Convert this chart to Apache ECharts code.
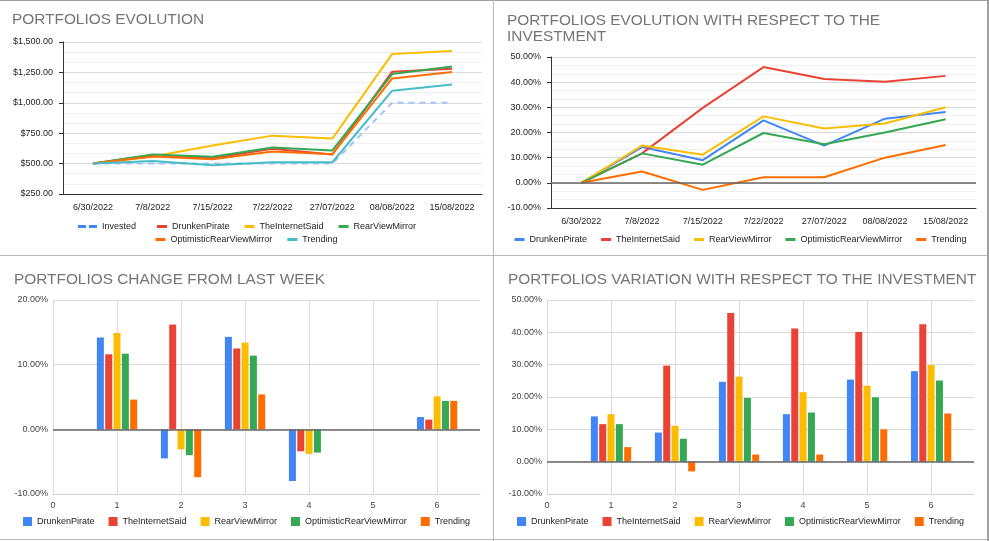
<!DOCTYPE html>
<html>
<head>
<meta charset="utf-8">
<title>Portfolios</title>
<script src="https://cdn.jsdelivr.net/npm/echarts@6/dist/echarts.min.js"></script>
<style>
  html, body { margin: 0; padding: 0; background: #fff; }
  #wrap { position: relative; width: 989px; height: 541px; overflow: hidden; }
  .panel { position: absolute; }
  .ln { position: absolute; background: #b8b8b8; }
</style>
</head>
<body>
<div id="wrap">
  <div class="panel" id="c1" style="left:0;top:1px;width:493px;height:254px"></div>
  <div class="panel" id="c2" style="left:494px;top:1px;width:493px;height:254px"></div>
  <div class="panel" id="c3" style="left:0;top:256px;width:493px;height:283px"></div>
  <div class="panel" id="c4" style="left:494px;top:256px;width:493px;height:283px"></div>
  <div class="ln" style="left:0;top:0;width:989px;height:1px;background:#a0a0a0"></div>
  <div class="ln" style="left:0;top:255px;width:989px;height:1px"></div>
  <div class="ln" style="left:0;top:539px;width:989px;height:1px"></div>
  <div class="ln" style="left:493px;top:0;width:1px;height:541px"></div>
  <div class="ln" style="left:987px;top:0;width:2px;height:541px;background:#a0a0a0"></div>
</div>
<script>
// fechas de la semana
const dates = ['6/30/2022', '7/8/2022', '7/15/2022', '7/22/2022', '27/07/2022', '08/08/2022', '15/08/2022']
const weeks = [1, 2, 3, 4, 5, 6]

// valores en $ (chart 1)
const invested = [500, 500, 500, 500, 500, 1000, 1000]
const drunkenValue = [500, 570, 545, 622, 575, 1256, 1281]
const internetValue = [500, 558, 649, 730, 706, 1402, 1425]
const rearValue = [500, 574, 556, 632, 608, 1236, 1299]
const optimisticValue = [500, 558, 536, 599, 577, 1200, 1253]
const trendingValue = [500, 522, 486, 511, 511, 1100, 1150]

// % respecto a la inversion (chart 2)
const drunkenPct = [0, 14.2, 9.0, 24.8, 14.8, 25.5, 28.1]
const internetPct = [0, 11.7, 29.8, 46.0, 41.3, 40.2, 42.5]
const rearPct = [0, 14.8, 11.2, 26.4, 21.6, 23.6, 30.0]
const optimisticPct = [0, 11.7, 7.2, 19.8, 15.3, 20.0, 25.3]
const trendingPct = [0, 4.5, -2.8, 2.2, 2.2, 10.0, 15.0]

// cambio semanal % (chart 3)
const drunkenWeek = [14.2, -4.5, 14.3, -8.0, 0, 1.9]
const internetWeek = [11.6, 16.2, 12.5, -3.4, 0, 1.5]
const rearWeek = [14.9, -3.1, 13.4, -3.8, 0, 5.1]
const optimisticWeek = [11.7, -4.0, 11.4, -3.6, 0, 4.4]
const trendingWeek = [4.6, -7.4, 5.4, 0, 0, 4.4]

// variacion % (chart 4)
const drunkenVar = [14.0, 9.0, 24.7, 14.7, 25.4, 28.0]
const internetVar = [11.6, 29.7, 46.0, 41.2, 40.1, 42.5]
const rearVar = [14.7, 11.1, 26.3, 21.5, 23.5, 29.9]
const optimisticVar = [11.6, 7.1, 19.7, 15.2, 19.9, 25.1]
const trendingVar = [4.5, -3.0, 2.2, 2.2, 10.0, 14.9]

const names = ['DrunkenPirate', 'TheInternetSaid', 'RearViewMirror', 'OptimisticRearViewMirror', 'Trending']
const blue = '#4285F4'
const red = '#EA4335'
const yellow = '#FBBC04'
const green = '#34A853'
const orange = '#FF6D01'
const teal = '#46BDC6'

const font = '"Liberation Sans", Arial, sans-serif'
const titleStyle = { fontFamily: font, fontSize: 15.4, fontWeight: 'normal', color: '#757575', lineHeight: 16 }
const labelStyle = { fontFamily: font, fontSize: 9, color: '#444' }
const legendText = { fontFamily: font, fontSize: 9, color: '#222' }

function pct (v) { return v.toFixed(2) + '%' }

function lineSeries (name, data, color) {
  return { name: name, type: 'line', data: data, symbol: 'none', color: color, lineStyle: { width: 2, color: color } }
}

// chart 1: evolucion en $
let c1 = echarts.init(document.getElementById('c1'))
c1.setOption({
  animation: false,
  title: { text: 'PORTFOLIOS EVOLUTION', left: 12, top: 11, padding: 0, textStyle: titleStyle },
  grid: { left: 63, right: 11, top: 41, bottom: 61 },
  legend: [
    {
      data: [{ name: 'Invested', icon: 'path://M0,0h8v3h-8zM11,0h8v3h-8z' }],
      left: 78, top: 221, padding: 0, itemWidth: 19, itemHeight: 3, textStyle: legendText
    },
    {
      data: ['DrunkenPirate', 'TheInternetSaid', 'RearViewMirror'],
      left: 157, top: 221, padding: 0, itemGap: 15, itemWidth: 10, itemHeight: 3, icon: 'rect', textStyle: legendText
    },
    {
      data: ['OptimisticRearViewMirror', 'Trending'],
      left: 'center', top: 234, padding: 0, itemGap: 15, itemWidth: 10, itemHeight: 3, icon: 'rect', textStyle: legendText
    }
  ],
  xAxis: {
    type: 'category',
    data: dates,
    boundaryGap: true,
    axisLine: { lineStyle: { color: '#333' } },
    axisTick: { alignWithLabel: true, length: 5, lineStyle: { color: '#333' } },
    axisLabel: Object.assign({ margin: 9, interval: 0 }, labelStyle, { color: '#222' })
  },
  yAxis: {
    type: 'value',
    min: 250,
    max: 1500,
    interval: 250,
    axisLine: { show: true, lineStyle: { color: '#333' } },
    axisTick: { show: true, length: 4, lineStyle: { color: '#333' } },
    axisLabel: Object.assign({
      margin: 10,
      formatter: v => '$' + v.toLocaleString('en-US', { minimumFractionDigits: 2, maximumFractionDigits: 2 })
    }, labelStyle, { color: '#222' }),
    splitLine: { lineStyle: { color: '#dadada' } },
    minorTick: { show: false, splitNumber: 3 },
    minorSplitLine: { show: true, lineStyle: { color: '#f0f0f0' } }
  },
  series: [
    {
      name: 'Invested', type: 'line', data: invested, symbol: 'none', color: blue,
      lineStyle: { width: 2, type: [6, 5], color: '#a5c3f8' }
    },
    lineSeries('DrunkenPirate', drunkenValue, red),
    lineSeries('TheInternetSaid', internetValue, yellow),
    lineSeries('RearViewMirror', rearValue, green),
    lineSeries('OptimisticRearViewMirror', optimisticValue, orange),
    lineSeries('Trending', trendingValue, teal)
  ]
})

// chart 2: evolucion respecto a la inversion
let c2 = echarts.init(document.getElementById('c2'))
let s2 = [
  lineSeries(names[0], drunkenPct, blue),
  lineSeries(names[1], internetPct, red),
  lineSeries(names[2], rearPct, yellow),
  lineSeries(names[3], optimisticPct, green),
  lineSeries(names[4], trendingPct, orange)
]
s2[0].markLine = {
  silent: true, symbol: 'none', label: { show: false },
  lineStyle: { color: '#666', type: 'solid', width: 1.5 },
  data: [{ yAxis: 0 }]
}
c2.setOption({
  animation: false,
  title: { text: 'PORTFOLIOS EVOLUTION WITH RESPECT TO THE\nINVESTMENT', left: 13, top: 12, padding: 0, textStyle: titleStyle },
  grid: { left: 57, right: 11, top: 56, bottom: 47 },
  legend: {
    data: names, left: 'center', top: 234, padding: 0, itemGap: 14,
    itemWidth: 10, itemHeight: 3, icon: 'rect', textStyle: legendText
  },
  xAxis: {
    type: 'category',
    data: dates,
    boundaryGap: true,
    axisLine: { onZero: false, lineStyle: { color: '#333' } },
    axisTick: { alignWithLabel: true, length: 5, lineStyle: { color: '#333' } },
    axisLabel: Object.assign({ margin: 9, interval: 0 }, labelStyle, { color: '#222' })
  },
  yAxis: {
    type: 'value',
    min: -10,
    max: 50,
    interval: 10,
    axisLine: { show: true, lineStyle: { color: '#333' } },
    axisTick: { show: true, length: 4, lineStyle: { color: '#333' } },
    axisLabel: Object.assign({ margin: 10, formatter: pct }, labelStyle, { color: '#222' }),
    splitLine: { lineStyle: { color: '#dadada' } },
    minorTick: { show: false, splitNumber: 3 },
    minorSplitLine: { show: true, lineStyle: { color: '#f0f0f0' } }
  },
  series: s2
})

// charts 3 y 4: barras
function barOption (title, min, max, data) {
  let series = data.map((d, i) => ({
    name: names[i],
    type: 'bar',
    data: weeks.map((w, j) => [w, d[j]]),
    barWidth: 7,
    barGap: '19%',
    color: [blue, red, yellow, green, orange][i]
  }))
  series[0].markLine = {
    silent: true, symbol: 'none', label: { show: false },
    lineStyle: { color: '#666', type: 'solid', width: 1.5 },
    data: [{ yAxis: 0 }]
  }
  return {
    animation: false,
    title: { text: title, left: 14, top: 16, padding: 0, textStyle: titleStyle },
    grid: { left: 53, right: 13, top: 44, bottom: 45 },
    legend: {
      data: names, left: 'center', top: 261, padding: 0, itemGap: 14,
      itemWidth: 9, itemHeight: 9, icon: 'rect', textStyle: legendText
    },
    xAxis: {
      type: 'value',
      min: 0,
      max: 6.67,
      interval: 1,
      axisLine: { show: true, onZero: false, lineStyle: { color: '#d0d0d0' } },
      axisTick: { show: false },
      axisLabel: Object.assign({ margin: 7, showMaxLabel: false }, labelStyle),
      splitLine: { show: true, showMaxLine: false, lineStyle: { color: '#dadada' } }
    },
    yAxis: {
      type: 'value',
      min: min,
      max: max,
      interval: 10,
      axisLine: { show: false },
      axisTick: { show: false },
      axisLabel: Object.assign({ margin: 5, formatter: pct }, labelStyle),
      splitLine: { lineStyle: { color: '#dadada' } }
    },
    series: series
  }
}

let c3 = echarts.init(document.getElementById('c3'))
c3.setOption(barOption('PORTFOLIOS CHANGE FROM LAST WEEK', -10, 20,
  [drunkenWeek, internetWeek, rearWeek, optimisticWeek, trendingWeek]))

let c4 = echarts.init(document.getElementById('c4'))
c4.setOption(barOption('PORTFOLIOS VARIATION WITH RESPECT TO THE INVESTMENT', -10, 50,
  [drunkenVar, internetVar, rearVar, optimisticVar, trendingVar]))
</script>
</body>
</html>
